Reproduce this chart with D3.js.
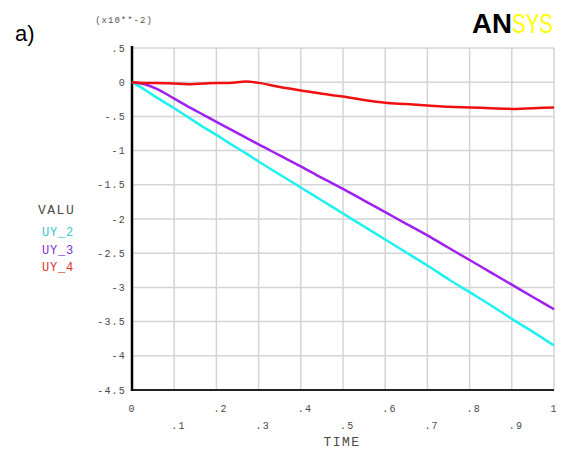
<!DOCTYPE html>
<html><head><meta charset="utf-8">
<script src="https://cdn.jsdelivr.net/npm/d3@7"></script>
<style>body{margin:0;background:#fff}</style>
</head><body>
<script>
const xTicks = [0,0.1,0.2,0.3,0.4,0.5,0.6,0.7,0.8,0.9,1];
const xTickLabels = ["0",".1",".2",".3",".4",".5",".6",".7",".8",".9","1"];
const yTicks = [0.5,0,-0.5,-1,-1.5,-2,-2.5,-3,-3.5,-4,-4.5];
const yTickLabels = [".5","0","-.5","-1","-1.5","-2","-2.5","-3","-3.5","-4","-4.5"];
const time = [0,0.03,0.06,0.1,0.14,0.17,0.2,0.23,0.27,0.3,0.35,0.4,0.45,0.5,0.55,0.6,0.65,0.7,0.75,0.8,0.85,0.9,0.95,1];
const uy2 = [0,-0.11,-0.23,-0.38,-0.54,-0.66,-0.77,-0.89,-1.04,-1.16,-1.35,-1.54,-1.73,-1.92,-2.11,-2.3,-2.49,-2.68,-2.88,-3.07,-3.26,-3.46,-3.65,-3.85];
const uy3 = [0,-0.03,-0.1,-0.24,-0.38,-0.48,-0.58,-0.68,-0.81,-0.91,-1.07,-1.23,-1.4,-1.56,-1.73,-1.9,-2.07,-2.24,-2.42,-2.6,-2.78,-2.96,-3.14,-3.32];
const uy4 = [0,-0.01,-0.01,-0.02,-0.03,-0.02,-0.01,-0.01,0.01,-0.01,-0.07,-0.12,-0.17,-0.21,-0.26,-0.3,-0.32,-0.34,-0.36,-0.37,-0.38,-0.39,-0.38,-0.37];
const seriesNames = ["UY_2","UY_3","UY_4"];
const seriesColors = ["#1ff0f0","#a020f0","#f01010"];
const legendColors = ["#30c8c8","#7a2cd8","#e03030"];

const W=568,H=450;
const svg=d3.select("body").append("svg").attr("width",W).attr("height",H);
const x=d3.scaleLinear().domain([0,1]).range([132,554]);
const y=d3.scaleLinear().domain([-4.5,0.5]).range([390,48]);
const mono="'Liberation Mono','DejaVu Sans Mono',monospace";

// grid
const g=svg.append("g");
g.selectAll(".vg").data(xTicks.slice(1)).join("line")
 .attr("x1",d=>x(d)).attr("x2",d=>x(d)).attr("y1",y(0.5)).attr("y2",y(-4.5))
 .attr("stroke","#d4d4d4").attr("stroke-width",1.5);
g.selectAll(".hg").data(yTicks.slice(0,-1)).join("line")
 .attr("x1",x(0)).attr("x2",x(1)).attr("y1",d=>y(d)).attr("y2",d=>y(d))
 .attr("stroke","#d4d4d4").attr("stroke-width",1.5);

// axes lines
svg.append("line").attr("x1",x(0)).attr("x2",x(1)).attr("y1",y(-4.5)).attr("y2",y(-4.5)).attr("stroke","#222").attr("stroke-width",2);
svg.append("line").attr("x1",x(0)).attr("x2",x(0)).attr("y1",y(0.5)-2).attr("y2",y(-4.5)+1).attr("stroke","#000").attr("stroke-width",2.5);

// y tick labels
svg.selectAll(".yl").data(yTicks).join("text")
 .attr("x",126).attr("y",d=>y(d)+3.5).attr("text-anchor","end")
 .attr("font-family",mono).attr("font-size",10).attr("letter-spacing",1.2).attr("fill","#4a4a4a")
 .text((d,i)=>yTickLabels[i]);
// x tick labels (staggered)
svg.selectAll(".xl").data(xTicks).join("text")
 .attr("x",(d,i)=>xTickLabels[i].startsWith(".")?x(d)-3:x(d))
 .attr("y",(d,i)=>i%2===0?411.5:429)
 .attr("text-anchor",(d,i)=>xTickLabels[i].startsWith(".")?"start":"middle")
 .attr("font-family",mono).attr("font-size",10).attr("letter-spacing",1.2).attr("fill","#4a4a4a")
 .text((d,i)=>xTickLabels[i]);

svg.append("text").attr("x",x(0.5)-1).attr("y",446).attr("text-anchor","middle")
 .attr("font-family",mono).attr("font-size",13).attr("letter-spacing",1.5).attr("fill","#4a4a4a").text("TIME");
svg.append("text").attr("x",124).attr("y",23).attr("text-anchor","middle")
 .attr("font-family",mono).attr("font-size",9).attr("letter-spacing",1).attr("fill","#555").text("(x10**-2)");

// lines
const data=[uy2,uy3,uy4];
const line=d3.line().x((d,i)=>x(time[i])).y(d=>y(d)).curve(d3.curveMonotoneX);
svg.selectAll(".ln").data(data).join("path")
 .attr("d",d=>line(d)).attr("fill","none")
 .attr("stroke",(d,i)=>seriesColors[i]).attr("stroke-width",2.5).attr("stroke-linejoin","round");

// legend
svg.append("text").attr("x",38).attr("y",214).attr("font-family",mono).attr("font-size",13).attr("letter-spacing",1.5).attr("fill","#4a4a4a").text("VALU");
svg.selectAll(".lg").data(seriesNames).join("text")
 .attr("x",42).attr("y",(d,i)=>236+i*17.5)
 .attr("font-family",mono).attr("font-size",12).attr("letter-spacing",0.8).attr("fill",(d,i)=>legendColors[i]).text(d=>d);

// a)
svg.append("text").attr("x",15).attr("y",41).attr("font-family","'Liberation Sans',Arial,sans-serif").attr("font-size",22).attr("fill","#000").text("a)");

// logo
svg.append("text").attr("x",472).attr("y",33).attr("font-family","'Liberation Sans',Arial,sans-serif").attr("font-size",28)
 .attr("font-weight","bold").attr("fill","#000").attr("textLength",40).attr("lengthAdjust","spacingAndGlyphs").text("AN");
svg.append("text").attr("x",512).attr("y",33).attr("font-family","'Liberation Sans',Arial,sans-serif").attr("font-size",28)
 .attr("fill","#ffff00").attr("textLength",41).attr("lengthAdjust","spacingAndGlyphs").text("SYS");
</script>
</body></html>
